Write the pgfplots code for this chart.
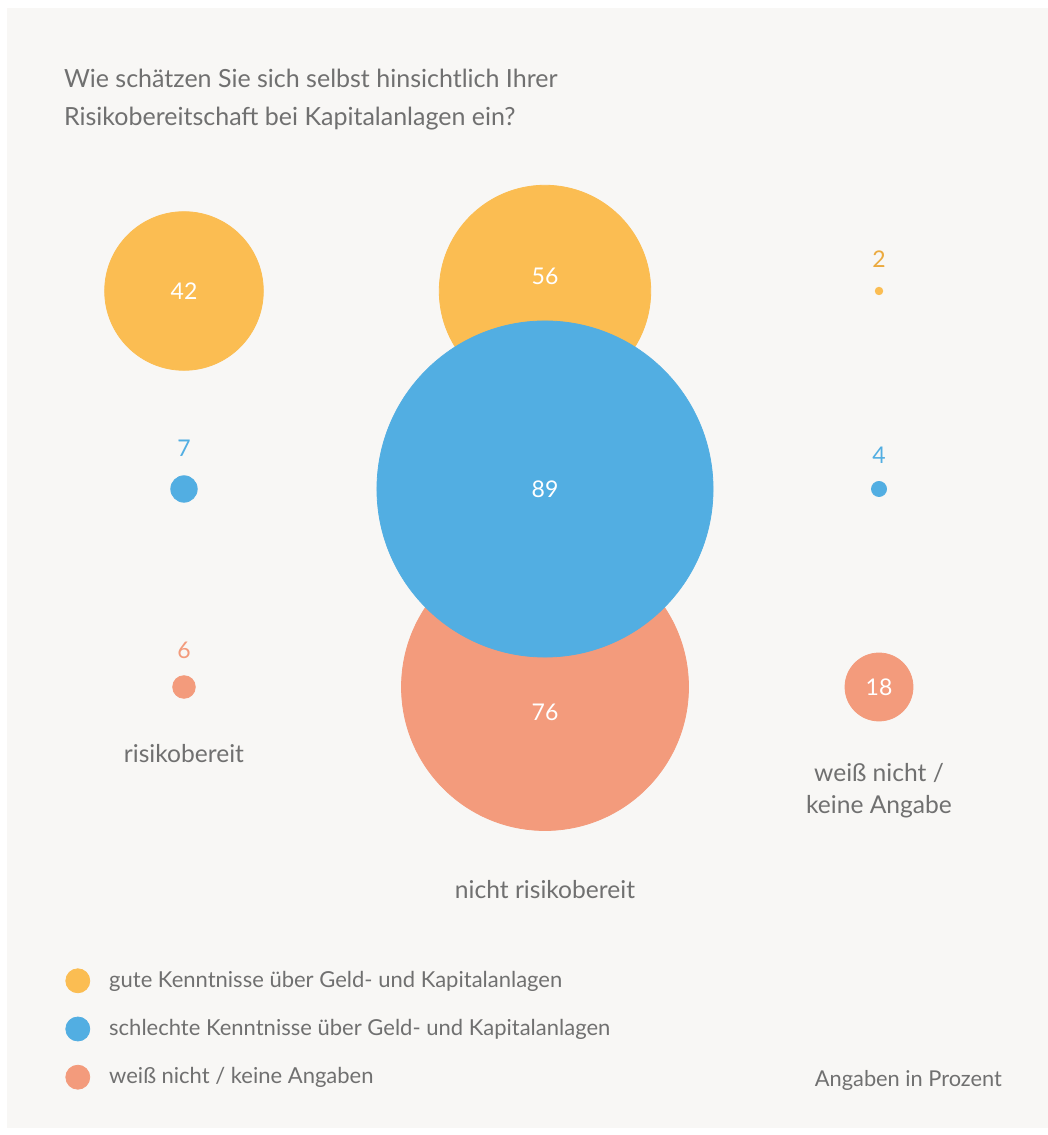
\documentclass[border=0pt]{standalone}
\usepackage{pgfplots}
\pgfplotsset{compat=1.18}
\usepackage{fontspec}
\setmainfont{Lato}

\definecolor{bg}{HTML}{F8F7F5}
\definecolor{txt}{HTML}{707070}
\definecolor{cOrange}{HTML}{FBBD52}
\definecolor{cOrangeT}{HTML}{EBAA3F}
\definecolor{cBlue}{HTML}{52AEE2}
\definecolor{cRed}{HTML}{F39B7C}

% x, y in pixels of the original, v = value in percent (radius ~ value)
\pgfplotsset{
  bubble/.style={scatter, only marks, mark=*,
    scatter/use mapped color={draw=#1, fill=#1},
    visualization depends on={\thisrow{v}*0.944 \as \rr},
    scatter/@pre marker code/.append style={/tikz/mark size=\rr pt},
    legend image code/.code={\fill[#1] (0pt,0pt) circle (6pt);}},
}

\begin{document}
\begin{tikzpicture}
\begin{axis}[
    set layers,
    scale only axis,
    width=524pt, height=567.5pt,
    xmin=0, xmax=1048, ymin=0, ymax=1135,
    y dir=reverse,
    hide axis,
    clip=false,
    legend cell align=left,
    legend style={at={(axis cs:59,1029)}, anchor=west, draw=none, fill=none,
        font=\fontsize{11}{13}\selectfont\color{txt}, row sep=10.5pt,
        /tikz/every odd column/.append style={column sep=7.5pt}},
]
\begin{pgfonlayer}{axis background}
\fill[white] (axis cs:0,0) rectangle (axis cs:1048,1135);
\fill[bg] (axis cs:7,8) rectangle (axis cs:1048,1128);
\end{pgfonlayer}

\addplot[bubble=cOrange] table {
x   y   v
184 291 42
545 291 56
879 291 2
};
\addlegendentry{gute Kenntnisse über Geld- und Kapitalanlagen}

\addplot[bubble=cRed, forget plot] table {
x   y   v
184 687 6
545 687 76
879 687 18
};

\addplot[bubble=cBlue] table {
x   y   v
184 489 7
545 489 89
879 489 4
};
\addlegendentry{schlechte Kenntnisse über Geld- und Kapitalanlagen}

\addlegendimage{legend image code/.code={\fill[cRed] (0pt,0pt) circle (6pt);}}
\addlegendentry{weiß nicht / keine Angaben}

\begin{pgfonlayer}{axis foreground}
% title
\node[anchor=west, align=left, text=txt, font=\fontsize{12.5}{19}\selectfont]
  at (axis cs:57,100) {Wie schätzen Sie sich selbst hinsichtlich Ihrer\\Risikobereitschaft bei Kapitalanlagen ein?};

% value labels
\begin{scope}[font=\fontsize{11.5}{13}\selectfont]
\node[white] at (axis cs:184,291) {42};
\node[white] at (axis cs:545,276) {56};
\node[cOrangeT] at (axis cs:879,259) {2};
\node[cBlue] at (axis cs:184,448) {7};
\node[white] at (axis cs:545,489) {89};
\node[cBlue] at (axis cs:879,455) {4};
\node[cRed] at (axis cs:184,650) {6};
\node[white] at (axis cs:545,712) {76};
\node[white] at (axis cs:879,687) {18};
\end{scope}

% category labels
\begin{scope}[text=txt, font=\fontsize{12.3}{16}\selectfont]
\node at (axis cs:184,754) {risikobereit};
\node at (axis cs:545,890) {nicht risikobereit};
\node[align=center] at (axis cs:879,791) {weiß nicht /\\keine Angabe};
\end{scope}

\node[anchor=east, text=txt, font=\fontsize{10.9}{13}\selectfont] at (axis cs:1009,1080) {Angaben in Prozent};
\end{pgfonlayer}
\end{axis}
\end{tikzpicture}
\end{document}
